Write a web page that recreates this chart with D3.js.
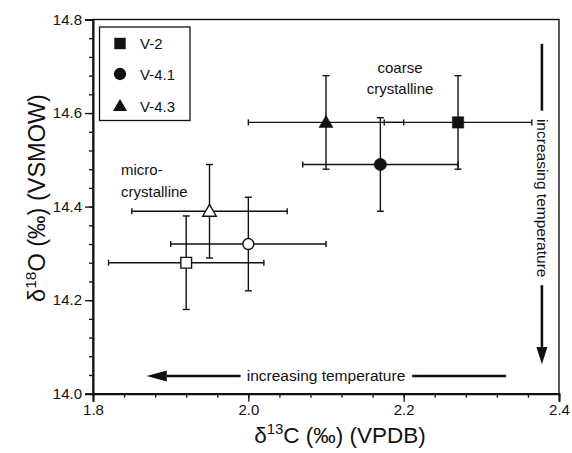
<!DOCTYPE html>
<html><head><meta charset="utf-8">
<script src="https://cdn.jsdelivr.net/npm/d3@7"></script>
<style>html,body{margin:0;padding:0;background:#fff;} svg{display:block;}</style>
</head><body>
<svg id="c" width="572" height="453"></svg>
<script>
// ---- data ----
const series = ["V-2", "V-4.1", "V-4.3"];
const symbols = ["square", "circle", "triangle"];
// coarse crystalline (filled)
const coarseX = [2.27, 2.17, 2.10];
const coarseY = [14.58, 14.49, 14.58];
const coarseXErr = [0.095, 0.10, 0.10];
const coarseYErr = [0.10, 0.10, 0.10];
// micro-crystalline (open)
const microX = [1.92, 2.00, 1.95];
const microY = [14.28, 14.32, 14.39];
const microXErr = [0.10, 0.10, 0.10];
const microYErr = [0.10, 0.10, 0.10];
const xTicks = [1.8, 2.0, 2.2, 2.4];
const yTicks = [14.0, 14.2, 14.4, 14.6, 14.8];

const svg = d3.select("#c");
const FONT = "'Liberation Sans', Arial, Helvetica, sans-serif";
const ML = 93, MR = 559, MT = 19.5, MB = 393.7;
const x = d3.scaleLinear().domain([1.8, 2.4]).range([ML, MR]);
const y = d3.scaleLinear().domain([14.0, 14.8]).range([MB, MT]);
const ink = "#111";

// frame
svg.append("rect").attr("x", ML).attr("y", MT).attr("width", MR - ML).attr("height", MB - MT)
  .attr("fill", "none").attr("stroke", ink).attr("stroke-width", 1.4);

// axes
const xMinor = d3.range(1.8, 2.4001, 0.04);
const yMinor = d3.range(14.0, 14.8001, 0.04);
const gx = svg.append("g").attr("transform", `translate(0,${MB})`);
gx.call(d3.axisBottom(x).tickValues(xMinor).tickSize(4).tickFormat(""));
gx.call(g => g.select(".domain").remove());
const gx2 = svg.append("g").attr("transform", `translate(0,${MB})`);
gx2.call(d3.axisBottom(x).tickValues(xTicks).tickSize(8).tickPadding(3).tickFormat(d3.format(".1f")));
const gy = svg.append("g").attr("transform", `translate(${ML},0)`);
gy.call(d3.axisLeft(y).tickValues(yMinor).tickSize(4).tickFormat(""));
gy.call(g => g.select(".domain").remove());
const gy2 = svg.append("g").attr("transform", `translate(${ML},0)`);
gy2.call(d3.axisLeft(y).tickValues(yTicks).tickSize(8).tickPadding(3).tickFormat(d3.format(".1f")));
svg.selectAll(".tick line").attr("stroke", ink).attr("stroke-width", 1.3);
svg.selectAll(".domain").attr("stroke", ink).attr("stroke-width", 2);
svg.selectAll(".tick text").attr("font-family", FONT).attr("font-size", 15).attr("fill", ink);

// axis titles
const xt = svg.append("text").attr("x", 340).attr("y", 443).attr("text-anchor", "middle")
  .attr("font-family", FONT).attr("font-size", 22.5).attr("fill", ink);
xt.append("tspan").text("δ");
xt.append("tspan").attr("dy", -9).attr("font-size", 15).text("13");
xt.append("tspan").attr("dy", 9).text("C (‰) (VPDB)");
const yt = svg.append("text").attr("transform", "translate(45,198) rotate(-90)").attr("text-anchor", "middle")
  .attr("font-family", FONT).attr("font-size", 23.5).attr("fill", ink);
yt.append("tspan").text("δ");
yt.append("tspan").attr("dy", -9.5).attr("font-size", 15.5).text("18");
yt.append("tspan").attr("dy", 9.5).text("O (‰) (VSMOW)");

// error bars & points
function drawSet(xs, ys, xe, ye, filled) {
  const g = svg.append("g");
  xs.forEach((xv, i) => {
    const cx = x(xv), cy = y(ys[i]);
    const x0 = x(xv - xe[i]), x1 = x(xv + xe[i]);
    const y0 = y(ys[i] - ye[i]), y1 = y(ys[i] + ye[i]);
    const st = l => l.attr("stroke", ink).attr("stroke-width", 1.4);
    st(g.append("line").attr("x1", x0).attr("x2", x1).attr("y1", cy).attr("y2", cy));
    st(g.append("line").attr("x1", cx).attr("x2", cx).attr("y1", y0).attr("y2", y1));
    [x0, x1].forEach(xx => st(g.append("line").attr("x1", xx).attr("x2", xx).attr("y1", cy - 3).attr("y2", cy + 3)));
    [y0, y1].forEach(yy => st(g.append("line").attr("x1", cx - 3.5).attr("x2", cx + 3.5).attr("y1", yy).attr("y2", yy)));
  });
  xs.forEach((xv, i) => {
    const cx = x(xv), cy = y(ys[i]);
    const type = symbols[i];
    const sym = type === "square" ? d3.symbolSquare : type === "circle" ? d3.symbolCircle : d3.symbolTriangle;
    const size = type === "square" ? (filled ? 130 : 115) : type === "circle" ? (filled ? 120 : 95) : (filled ? 85 : 80);
    g.append("path").attr("d", d3.symbol().type(sym).size(size)())
      .attr("transform", `translate(${cx},${cy + (type === "triangle" ? 1 : 0)})`)
      .attr("fill", filled ? ink : "#fff").attr("stroke", ink).attr("stroke-width", filled ? 0.5 : 1.4);
  });
}
drawSet(microX, microY, microXErr, microYErr, false);
drawSet(coarseX, coarseY, coarseXErr, coarseYErr, true);

// legend
svg.append("rect").attr("x", 99.5).attr("y", 27).attr("width", 90.5).attr("height", 93.5)
  .attr("fill", "#fff").attr("stroke", ink).attr("stroke-width", 1.3);
series.forEach((s, i) => {
  const ly = [43.5, 74, 106][i];
  const type = symbols[i];
  const sym = type === "square" ? d3.symbolSquare : type === "circle" ? d3.symbolCircle : d3.symbolTriangle;
  const size = type === "square" ? 130 : type === "circle" ? 120 : 85;
  svg.append("path").attr("d", d3.symbol().type(sym).size(size)())
    .attr("transform", `translate(120,${ly + (type === "triangle" ? 1 : 0)})`).attr("fill", ink);
  svg.append("text").attr("x", 140).attr("y", ly + 5.5).attr("font-family", FONT).attr("font-size", 15)
    .attr("fill", ink).text(s);
});

// annotations
const ann = (tx, ty, t, anchor) => svg.append("text").attr("x", tx).attr("y", ty).attr("text-anchor", anchor || "middle")
  .attr("font-family", FONT).attr("font-size", 15).attr("fill", ink).text(t);
ann(400, 73, "coarse");
ann(400, 94, "crystalline");
ann(121, 175, "micro-", "start");
ann(121, 197, "crystalline", "start");

// horizontal arrow
const ha = y(14.038);
svg.append("line").attr("x1", x(1.99)).attr("x2", x(1.895)).attr("y1", ha).attr("y2", ha).attr("stroke", ink).attr("stroke-width", 2.6);
svg.append("path").attr("d", `M${x(1.869)},${ha} L${x(1.895)},${ha - 5.5} L${x(1.895)},${ha + 5.5} Z`).attr("fill", ink);
svg.append("line").attr("x1", x(2.211)).attr("x2", x(2.332)).attr("y1", ha).attr("y2", ha).attr("stroke", ink).attr("stroke-width", 2.6);
svg.append("text").attr("x", x(2.1)).attr("y", ha + 5.5).attr("text-anchor", "middle")
  .attr("font-family", FONT).attr("font-size", 15.5).attr("fill", ink).text("increasing temperature");

// vertical arrow
const va = x(2.378);
svg.append("line").attr("x1", va).attr("x2", va).attr("y1", y(14.748)).attr("y2", y(14.605)).attr("stroke", ink).attr("stroke-width", 2.6);
svg.append("line").attr("x1", va).attr("x2", va).attr("y1", y(14.232)).attr("y2", y(14.1)).attr("stroke", ink).attr("stroke-width", 2.6);
svg.append("path").attr("d", `M${va},${y(14.063)} L${va - 5.5},${y(14.1)} L${va + 5.5},${y(14.1)} Z`).attr("fill", ink);
svg.append("text").attr("transform", `translate(${va - 4.5},${y(14.418)}) rotate(90)`).attr("text-anchor", "middle")
  .attr("font-family", FONT).attr("font-size", 15.5).attr("fill", ink).text("increasing temperature");
</script>
</body></html>
